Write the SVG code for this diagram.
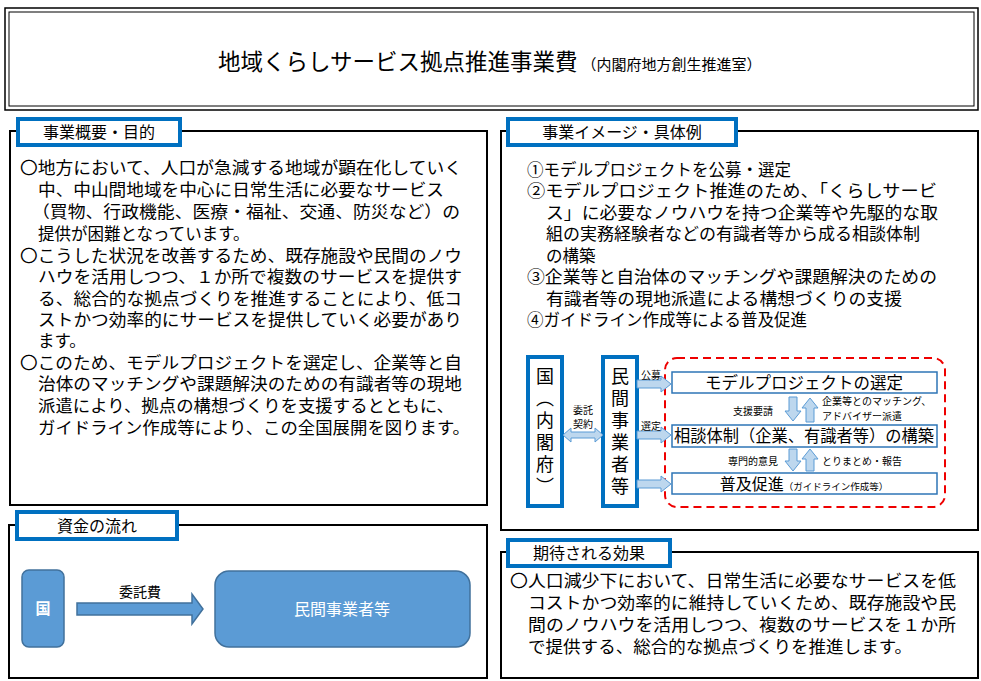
<svg xmlns="http://www.w3.org/2000/svg" width="981" height="681" viewBox="0 0 981 681">
<defs>
<style>
text{font-family:"Noto Sans CJK JP","Liberation Sans",sans-serif;fill:#000}
.panel{fill:#fff;stroke:#000;stroke-width:2}
.lab{fill:#fff;stroke:#0070c0;stroke-width:4}
.bt{font-size:16.5px}
.blue{fill:#fff;stroke:#0070c0;stroke-width:4}
.sb{fill:#fff;stroke:#2e75b6;stroke-width:1.5}
.ar{fill:#bdd7ee;stroke:#5b9bd5;stroke-width:1}
.vt{font-size:18px;writing-mode:vertical-rl;letter-spacing:4px}
</style>
</defs>
<rect width="981" height="681" fill="#fff"/>
<g id="title">
<rect x="5" y="8" width="973" height="102" fill="#fff" stroke="#000" stroke-width="1.5"/>
<rect x="9" y="12" width="965" height="94" fill="none" stroke="#000" stroke-width="1"/>
<text x="218" y="70" font-size="22.5">地域くらしサービス拠点推進事業費<tspan font-size="15" dx="4">（内閣府地方創生推進室）</tspan></text>
</g>
<g id="overview">
<rect class="panel" x="10" y="131" width="477" height="374"/>
<rect class="lab" x="18" y="119" width="162" height="26"/>
<text x="99" y="138" font-size="16" text-anchor="middle">事業概要・目的</text>
<g class="bt">
<text x="20" y="174" textLength="442" lengthAdjust="spacingAndGlyphs">〇地方において、人口が急減する地域が顕在化していく</text>
<text x="38" y="196" textLength="406" lengthAdjust="spacingAndGlyphs">中、中山間地域を中心に日常生活に必要なサービス</text>
<text x="32" y="218" textLength="428" lengthAdjust="spacingAndGlyphs">（買物、行政機能、医療・福祉、交通、防災など）の</text>
<text x="38" y="240">提供が困難となっています。</text>
<text x="20" y="262" textLength="442" lengthAdjust="spacingAndGlyphs">〇こうした状況を改善するため、既存施設や民間のノウ</text>
<text x="38" y="283" textLength="424" lengthAdjust="spacingAndGlyphs">ハウを活用しつつ、１か所で複数のサービスを提供す</text>
<text x="38" y="305" textLength="424" lengthAdjust="spacingAndGlyphs">る、総合的な拠点づくりを推進することにより、低コ</text>
<text x="38" y="326" textLength="424" lengthAdjust="spacingAndGlyphs">ストかつ効率的にサービスを提供していく必要があり</text>
<text x="38" y="347">ます。</text>
<text x="20" y="369" textLength="442" lengthAdjust="spacingAndGlyphs">〇このため、モデルプロジェクトを選定し、企業等と自</text>
<text x="38" y="390" textLength="424" lengthAdjust="spacingAndGlyphs">治体のマッチングや課題解決のための有識者等の現地</text>
<text x="38" y="412" textLength="416" lengthAdjust="spacingAndGlyphs">派遣により、拠点の構想づくりを支援するとともに、</text>
<text x="38" y="434" textLength="432" lengthAdjust="spacingAndGlyphs">ガイドライン作成等により、この全国展開を図ります。</text>
</g>
</g>
<g id="image">
<rect class="panel" x="501" y="131" width="477" height="399"/>
<rect class="lab" x="508" y="119" width="228" height="26"/>
<text x="622" y="138" font-size="16" text-anchor="middle">事業イメージ・具体例</text>
<g class="bt">
<text x="527" y="176">①モデルプロジェクトを公募・選定</text>
<text x="527" y="197" textLength="410" lengthAdjust="spacingAndGlyphs">②モデルプロジェクト推進のため、「くらしサービ</text>
<text x="546" y="219" textLength="392" lengthAdjust="spacingAndGlyphs">ス」に必要なノウハウを持つ企業等や先駆的な取</text>
<text x="546" y="240" textLength="374" lengthAdjust="spacingAndGlyphs">組の実務経験者などの有識者等から成る相談体制</text>
<text x="546" y="262">の構築</text>
<text x="527" y="283" textLength="410" lengthAdjust="spacingAndGlyphs">③企業等と自治体のマッチングや課題解決のための</text>
<text x="546" y="305" textLength="356" lengthAdjust="spacingAndGlyphs">有識者等の現地派遣による構想づくりの支援</text>
<text x="527" y="326">④ガイドライン作成等による普及促進</text>
</g>
</g>
<g id="kuni">
<rect class="blue" x="528" y="357" width="34" height="149"/>
<text class="vt" x="545" y="367">国（内閣府）</text>
</g>
<g id="minkan">
<rect class="blue" x="603" y="357" width="34" height="149"/>
<text class="vt" x="620" y="367">民間事業者等</text>
</g>
<g id="dashed">
<rect x="665" y="358" width="280" height="149" rx="12" fill="none" stroke="#e00" stroke-width="2" stroke-dasharray="8,5"/>
</g>
<g id="model">
<rect class="sb" x="672" y="372" width="265" height="21"/>
<text x="804" y="389" font-size="16.5" text-anchor="middle">モデルプロジェクトの選定</text>
</g>
<g id="soudan">
<rect class="sb" x="672" y="425" width="265" height="22"/>
<text x="804" y="442" font-size="16.5" text-anchor="middle" textLength="260" lengthAdjust="spacingAndGlyphs">相談体制（企業、有識者等）の構築</text>
</g>
<g id="fukyu">
<rect class="sb" x="672" y="473" width="265" height="21"/>
<text x="804" y="490" font-size="16" text-anchor="middle">普及促進<tspan font-size="9.5">（ガイドライン作成等）</tspan></text>
</g>
<g id="connectors">
<path class="ar" d="M563,435 l8,-7 v4 h24 v-4 l8,7 l-8,7 v-4 h-24 v4 z"/>
<path class="ar" d="M637,380 h24 v-4 l10,8 l-10,8 v-4 h-24 z"/>
<path class="ar" d="M637,431 h24 v-4 l10,8 l-10,8 v-4 h-24 z"/>
<path class="ar" d="M637,480 h24 v-4 l10,8 l-10,8 v-4 h-24 z"/>
<path class="ar" d="M789,397 h8 v14 h4 l-8,10 l-8,-10 h4 z"/>
<path class="ar" d="M806,422 v-14 h-4 l8,-10 l8,10 h-4 v14 z"/>
<path class="ar" d="M789,449 h8 v12 h4 l-8,10 l-8,-10 h4 z"/>
<path class="ar" d="M806,471 v-12 h-4 l8,-10 l8,10 h-4 v12 z"/>
<text x="583" y="414" font-size="10" text-anchor="middle">委託</text>
<text x="583" y="428" font-size="10" text-anchor="middle">契約</text>
<text x="651" y="379" font-size="10" text-anchor="middle">公募</text>
<text x="651" y="430" font-size="10" text-anchor="middle">選定</text>
<text x="753" y="415" font-size="10" text-anchor="middle">支援要請</text>
<text x="822" y="405" font-size="10">企業等とのマッチング、</text>
<text x="822" y="420" font-size="10">アドバイザー派遣</text>
<text x="753" y="465" font-size="10" text-anchor="middle">専門的意見</text>
<text x="822" y="465" font-size="10">とりまとめ・報告</text>
</g>
<g id="funding">
<rect class="panel" x="9" y="525" width="478" height="153"/>
<rect class="lab" x="17" y="512" width="160" height="27"/>
<text x="97" y="532" font-size="16" text-anchor="middle">資金の流れ</text>
</g>
<g id="f-kuni">
<rect x="22" y="570" width="42" height="77" rx="7" fill="#5b9bd5" stroke="#41719c" stroke-width="1.5"/>
<text x="43" y="614" font-size="15" text-anchor="middle" style="fill:#fff" font-weight="bold">国</text>
</g>
<g id="f-arrow">
<path d="M77,603 h115 v-9 l11,15 l-11,15 v-9 h-115 z" fill="#5b9bd5" stroke="#41719c" stroke-width="1.5"/>
<text x="140" y="597" font-size="14" text-anchor="middle">委託費</text>
</g>
<g id="f-minkan">
<rect x="215" y="571" width="255" height="76" rx="14" fill="#5b9bd5" stroke="#41719c" stroke-width="1.5"/>
<text x="342" y="615" font-size="16" text-anchor="middle" style="fill:#fff">民間事業者等</text>
</g>
<g id="effect">
<rect class="panel" x="501" y="552" width="477" height="126"/>
<rect class="lab" x="508" y="540" width="162" height="26"/>
<text x="589" y="559" font-size="16" text-anchor="middle">期待される効果</text>
<g class="bt">
<text x="510" y="587" textLength="446" lengthAdjust="spacingAndGlyphs">〇人口減少下において、日常生活に必要なサービスを低</text>
<text x="528" y="609" textLength="428" lengthAdjust="spacingAndGlyphs">コストかつ効率的に維持していくため、既存施設や民</text>
<text x="528" y="631" textLength="428" lengthAdjust="spacingAndGlyphs">間のノウハウを活用しつつ、複数のサービスを１か所</text>
<text x="528" y="653" textLength="384" lengthAdjust="spacingAndGlyphs">で提供する、総合的な拠点づくりを推進します。</text>
</g>
</g>
</svg>
